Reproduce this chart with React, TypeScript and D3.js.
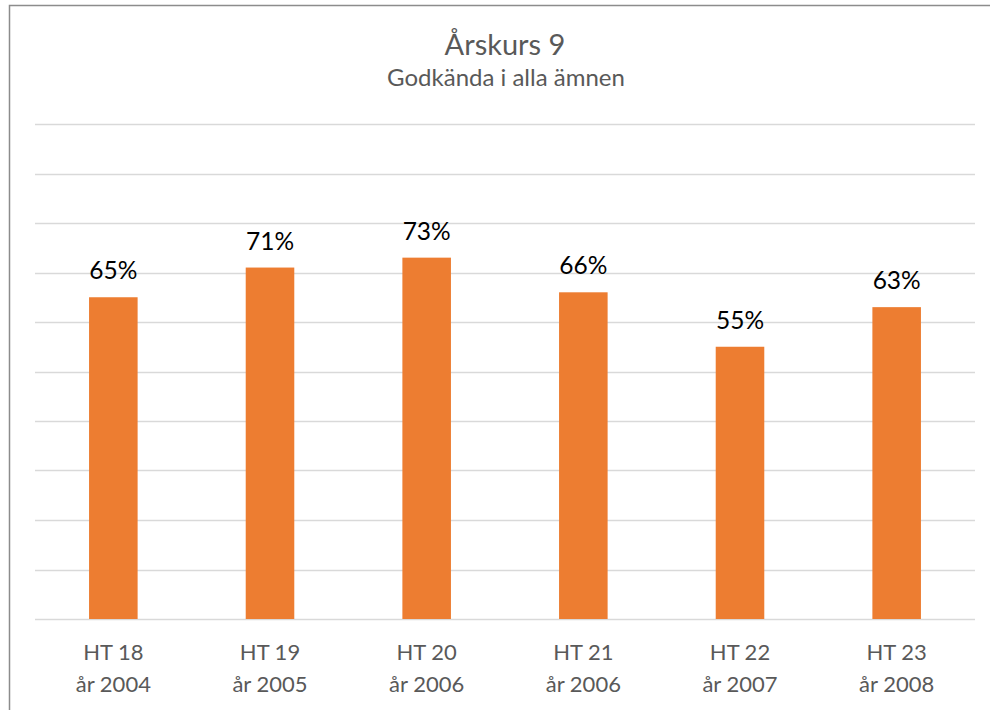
import React, { useEffect, useRef } from 'react';
import * as d3 from 'd3';

const categories = ['HT 18', 'HT 19', 'HT 20', 'HT 21', 'HT 22', 'HT 23'];
const years = ['år 2004', 'år 2005', 'år 2006', 'år 2006', 'år 2007', 'år 2008'];
const values = [65, 71, 73, 66, 55, 63];
const gridTicks = [0, 10, 20, 30, 40, 50, 60, 70, 80, 90, 100];

const FONT = 'Lato, "Open Sans", sans-serif';

export default function App() {
  const ref = useRef<SVGSVGElement | null>(null);

  useEffect(() => {
    const width = 990;
    const height = 710;
    const left = 35;
    const right = 975;
    const top = 124;
    const bottom = 619;

    const svg = d3.select(ref.current);
    svg.selectAll('*').remove();
    svg.attr('width', width).attr('height', height);

    svg.append('rect')
      .attr('width', width).attr('height', height).attr('fill', '#fff');

    // chart border, runs off the right and bottom edges
    svg.append('rect')
      .attr('x', 9.5).attr('y', 5.5)
      .attr('width', 1000).attr('height', 800)
      .attr('fill', 'none')
      .attr('stroke', '#8c8c8c')
      .attr('stroke-width', 1.5);

    const x = d3.scaleBand<number>()
      .domain(d3.range(categories.length))
      .range([left, right])
      .paddingInner(0.69)
      .paddingOuter(0.345);

    const y = d3.scaleLinear().domain([0, 100]).range([bottom, top]);

    svg.append('g').selectAll('line')
      .data(gridTicks)
      .join('line')
      .attr('x1', left).attr('x2', right)
      .attr('y1', d => Math.round(y(d)) + 0.5)
      .attr('y2', d => Math.round(y(d)) + 0.5)
      .attr('stroke', '#d9d9d9')
      .attr('stroke-width', 1.3);

    svg.append('g').selectAll('rect')
      .data(values)
      .join('rect')
      .attr('x', (d, i) => x(i)!)
      .attr('width', x.bandwidth())
      .attr('y', d => y(d))
      .attr('height', d => bottom - y(d))
      .attr('fill', '#ed7d31');

    svg.append('g').selectAll('text')
      .data(values)
      .join('text')
      .attr('x', (d, i) => x(i)! + x.bandwidth() / 2)
      .attr('y', d => y(d) - 18)
      .attr('text-anchor', 'middle')
      .attr('font-family', FONT)
      .attr('font-size', 24.5)
      .attr('fill', '#000')
      .text(d => d + '%');

    const labels = svg.append('g').selectAll('text')
      .data(categories)
      .join('text')
      .attr('text-anchor', 'middle')
      .attr('font-family', FONT)
      .attr('font-size', 22)
      .attr('fill', '#595959');
    labels.append('tspan')
      .attr('x', (d, i) => x(i)! + x.bandwidth() / 2)
      .attr('y', 660)
      .text(d => d);
    labels.append('tspan')
      .attr('x', (d, i) => x(i)! + x.bandwidth() / 2)
      .attr('y', 692)
      .text((d, i) => years[i]);

    svg.append('text')
      .attr('x', 505).attr('y', 55)
      .attr('text-anchor', 'middle')
      .attr('font-family', FONT)
      .attr('font-size', 29)
      .attr('fill', '#595959')
      .text('Årskurs 9');

    svg.append('text')
      .attr('x', 506).attr('y', 86)
      .attr('text-anchor', 'middle')
      .attr('font-family', FONT)
      .attr('font-size', 24)
      .attr('fill', '#595959')
      .text('Godkända i alla ämnen');
  }, []);

  return (
    <div style={{ position: 'absolute', left: 0, top: 0 }}>
      <svg ref={ref} style={{ display: 'block' }}></svg>
    </div>
  );
}
